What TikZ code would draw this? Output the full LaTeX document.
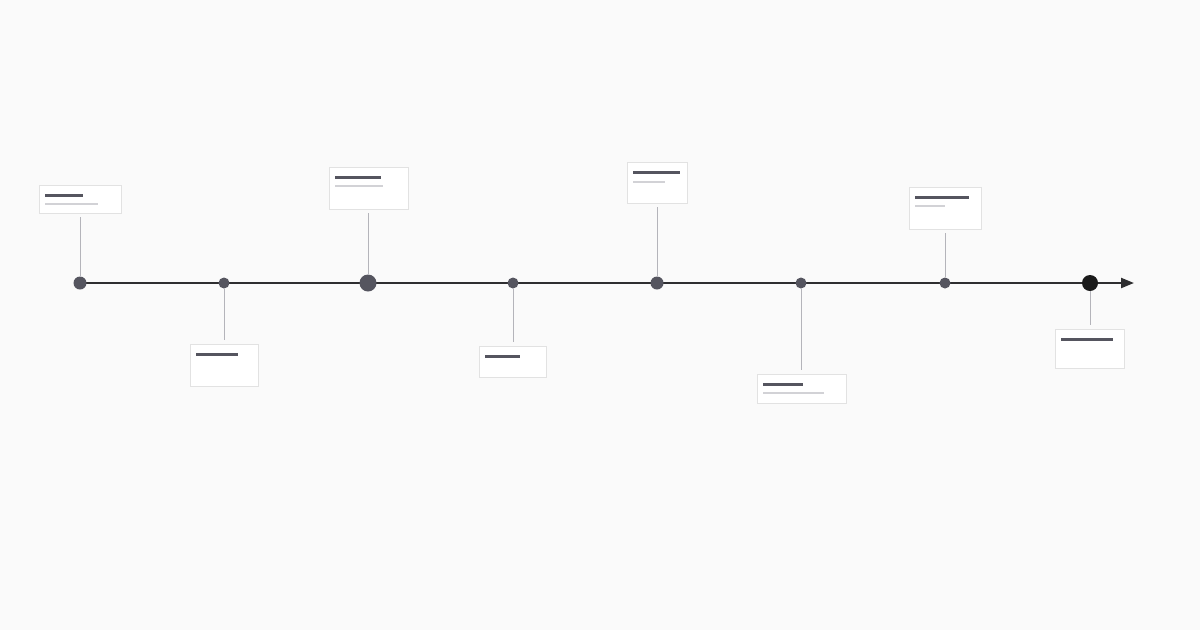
\documentclass[tikz,border=0pt]{standalone}
\usetikzlibrary{arrows.meta}
\definecolor{bg}{HTML}{FAFAFA}
\definecolor{axisc}{HTML}{2E2E30}
\definecolor{dotc}{HTML}{55555F}
\definecolor{dotk}{HTML}{1A1A1A}
\definecolor{connc}{HTML}{B4B4BA}
\definecolor{boxb}{HTML}{E2E2E2}
\definecolor{titlec}{HTML}{55555F}
\definecolor{subc}{HTML}{D2D2D6}
\begin{document}
\begin{tikzpicture}[x=1pt,y=-1pt,
  dot/.style={circle,fill=dotc,draw=none,inner sep=0pt},
  dotend/.style={circle,fill=dotk,draw=none,inner sep=0pt,minimum size=16pt},
  tlbox/.style={rectangle,fill=white,draw=boxb,line width=0.8pt,inner sep=0pt},
  conn/.style={draw=connc,line width=1pt,shorten <=4pt},
  titlebar/.style={fill=titlec},
  subbar/.style={fill=subc}]
\fill[bg] (0,0) rectangle (1200,630);
\useasboundingbox (0,0) rectangle (1200,630);
% axis
\coordinate (a0) at (80,283);
\coordinate (a1) at (1134,283);
\draw[axisc,line width=2.2pt,-{Triangle[length=13pt,width=10pt]}] (a0) -- (a1);
% dots
\node[dot,minimum size=13pt] (d1) at (80,283) {};
\node[dot,minimum size=11pt] (d2) at (224,283) {};
\node[dot,minimum size=17pt] (d3) at (368,283) {};
\node[dot,minimum size=11pt] (d4) at (513,283) {};
\node[dot,minimum size=13pt] (d5) at (657,283) {};
\node[dot,minimum size=11pt] (d6) at (801,283) {};
\node[dot,minimum size=11pt] (d7) at (945,283) {};
\node[dotend] (d8) at (1090,283) {};
% boxes
\node[tlbox,minimum width=82pt,minimum height=28pt] (b1) at (80,199) {};
\node[tlbox,minimum width=68pt,minimum height=42pt] (b2) at (224,365) {};
\node[tlbox,minimum width=79pt,minimum height=42pt] (b3) at (368.5,188) {};
\node[tlbox,minimum width=67pt,minimum height=31pt] (b4) at (512.5,361.5) {};
\node[tlbox,minimum width=60pt,minimum height=41pt] (b5) at (657,182.5) {};
\node[tlbox,minimum width=89pt,minimum height=29pt] (b6) at (801.5,388.5) {};
\node[tlbox,minimum width=72pt,minimum height=42pt] (b7) at (945,208) {};
\node[tlbox,minimum width=69pt,minimum height=39pt] (b8) at (1089.5,348.5) {};
% connectors
\draw[conn] (b1.south -| d1) -- (d1.north);
\draw[conn] (b2.north -| d2) -- (d2.south);
\draw[conn] (b3.south -| d3) -- (d3.north);
\draw[conn] (b4.north -| d4) -- (d4.south);
\draw[conn] (b5.south -| d5) -- (d5.north);
\draw[conn] (b6.north -| d6) -- (d6.south);
\draw[conn] (b7.south -| d7) -- (d7.north);
\draw[conn] (b8.north -| d8) -- (d8.south);
% placeholder bars
\fill[titlebar] (45,193.5) rectangle (83,196.8);
\fill[subbar] (45,203) rectangle (98,205.2);
\fill[titlebar] (196,352.5) rectangle (238,355.8);
\fill[titlebar] (335,175.5) rectangle (381,178.8);
\fill[subbar] (335,185) rectangle (383,187.2);
\fill[titlebar] (485,354.5) rectangle (520,357.8);
\fill[titlebar] (633,170.5) rectangle (680,173.8);
\fill[subbar] (633,181) rectangle (665,183.2);
\fill[titlebar] (763,382.5) rectangle (803,385.8);
\fill[subbar] (763,392) rectangle (824,394.2);
\fill[titlebar] (915,195.5) rectangle (969,198.8);
\fill[subbar] (915,205) rectangle (945,207.2);
\fill[titlebar] (1061,337.5) rectangle (1113,340.8);
\end{tikzpicture}
\end{document}
